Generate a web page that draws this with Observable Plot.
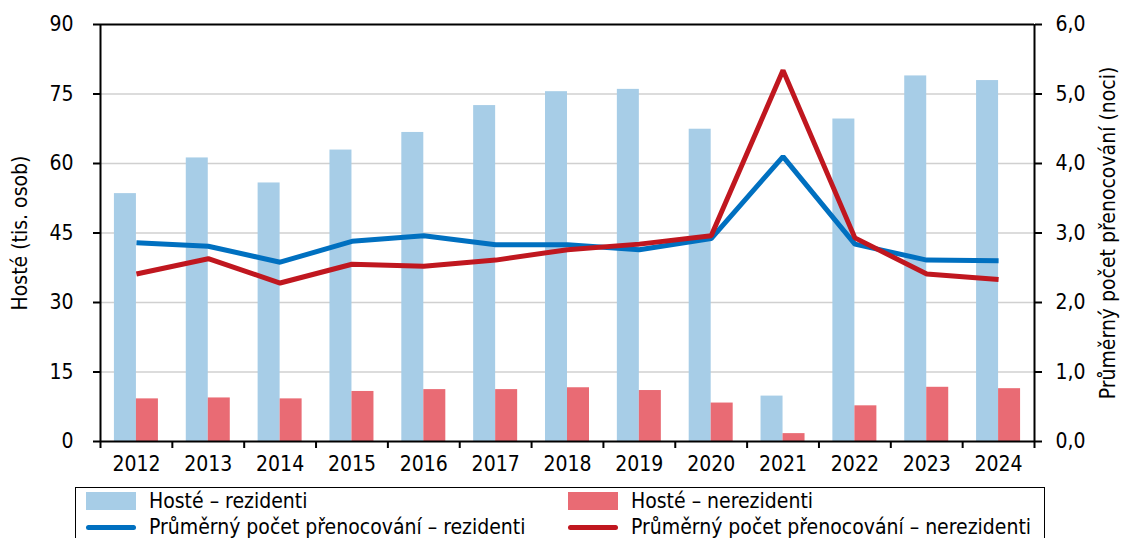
<!DOCTYPE html>
<html><head><meta charset="utf-8">
<script src="https://cdn.jsdelivr.net/npm/d3@7"></script>
<script src="https://cdn.jsdelivr.net/npm/@observablehq/plot@0.6"></script>
<style>
body{margin:0;background:#fff;font-family:"DejaVu Sans Condensed","DejaVu Sans",sans-serif;}
#wrap{position:relative;width:1121px;height:538px;overflow:hidden;}
#chart{position:absolute;left:0;top:0;}
#legend{position:absolute;left:75px;top:487px;width:970px;height:70px;border:1.5px solid #000;box-sizing:border-box;font-size:21px;color:#000;background:#fff;}
.item{position:absolute;display:flex;align-items:center;height:26px;white-space:nowrap;}
.sw{display:inline-block;width:50px;margin-right:13px;}
</style></head>
<body><div id="wrap"><div id="chart"></div><div id="legend"></div></div>
<script>
const years = [2012,2013,2014,2015,2016,2017,2018,2019,2020,2021,2022,2023,2024];
const guestsRes = [53.5,61.2,55.8,62.9,66.7,72.5,75.5,76.0,67.4,9.8,69.6,78.9,77.9];
const guestsNonres = [9.2,9.4,9.2,10.8,11.2,11.2,11.6,11.0,8.3,1.7,7.7,11.7,11.4];
const nightsRes = [2.86,2.81,2.58,2.88,2.96,2.83,2.83,2.76,2.92,4.10,2.84,2.61,2.60];
const nightsNonres = [2.41,2.63,2.28,2.55,2.52,2.61,2.76,2.84,2.96,5.34,2.93,2.41,2.33];
const leftTicks = [0,15,30,45,60,75,90];
const rightTicks = [0,1,2,3,4,5,6];
const labels = {
  gRes:"Hosté – rezidenti", gNon:"Hosté – nerezidenti",
  nRes:"Průměrný počet přenocování – rezidenti", nNon:"Průměrný počet přenocování – nerezidenti",
  yLeft:"Hosté (tis. osob)", yRight:"Průměrný počet přenocování (noci)"
};
const colors = {gRes:"#a7cde7", gNon:"#e96b74", nRes:"#0070c0", nNon:"#c0171f"};

const W = 1121, H = 478, ML = 100, MR = 87, MT = 24, MB = 37;
const ratio = 90/6;
const bw = (W-ML-MR)/years.length;
const barW = 22;
const FONT = "'DejaVu Sans Condensed','DejaVu Sans',sans-serif";

const resData = years.map((y,i)=>({year:y, v:guestsRes[i]}));
const nonData = years.map((y,i)=>({year:y, v:guestsNonres[i]}));
const nResData = years.map((y,i)=>({year:y, v:nightsRes[i]}));
const nNonData = years.map((y,i)=>({year:y, v:nightsNonres[i]}));

const chart = Plot.plot({
  width: W, height: H, marginLeft: ML, marginRight: MR, marginTop: MT, marginBottom: MB,
  style: {fontFamily: FONT, fontSize: "21px", color:"#000", background:"#fff", overflow:"visible"},
  x: {type:"band", domain: years, padding: 0, align: 0.5, round: false},
  y: {type:"linear", domain:[0,90]},
  marks: [
    Plot.ruleY([15,30,45,60,75], {stroke:"#d0d0d0", strokeWidth:1.5}),
    Plot.barY(resData, {x:"year", y:"v", fill:colors.gRes, insetLeft: bw/2-barW, insetRight: bw/2}),
    Plot.barY(nonData, {x:"year", y:"v", fill:colors.gNon, insetLeft: bw/2, insetRight: bw/2-barW}),
    Plot.line(nResData, {x:"year", y:d=>d.v*ratio, stroke:colors.nRes, strokeWidth:5, strokeLinejoin:"miter", strokeLinecap:"butt"}),
    Plot.line(nNonData, {x:"year", y:d=>d.v*ratio, stroke:colors.nNon, strokeWidth:5, strokeLinejoin:"miter", strokeLinecap:"butt"}),
    Plot.ruleY([90], {stroke:"#000", strokeWidth:2}),
    Plot.ruleY([0], {stroke:"#000", strokeWidth:2}),
    Plot.axisY(leftTicks, {anchor:"left", tickSize:7, tickPadding:20, stroke:"#000", strokeWidth:2, label:null, tickFormat:d=>String(d)}),
    Plot.axisY(rightTicks.map(d=>d*ratio), {anchor:"right", tickSize:7, tickPadding:14, stroke:"#000", strokeWidth:2, label:null, tickFormat:d=>(d/ratio).toFixed(1).replace(".",",")}),
    Plot.ruleX([years[0]], {dx:-bw/2, stroke:"#000", strokeWidth:2}),
    Plot.ruleX([years[years.length-1]], {dx:bw/2, stroke:"#000", strokeWidth:2, insetBottom:-7}),
    Plot.ruleX(years, {x:d=>d, y1:0, y2:0, dx:-bw/2, insetBottom:-7, stroke:"#000", strokeWidth:2}),
    Plot.axisX(years, {anchor:"bottom", tickSize:0, tickPadding:15, label:null, tickFormat:d=>String(d)}),
    Plot.text([labels.yLeft], {frameAnchor:"left", dx:-80, rotate:-90, textAnchor:"middle", fontSize:21}),
    Plot.text([labels.yRight], {frameAnchor:"right", dx:74, rotate:-90, textAnchor:"middle", fontSize:21})
  ]
});
document.getElementById("chart").appendChild(chart);

const leg = document.getElementById("legend");
const items = [
  {t:labels.gRes, c:colors.gRes, kind:"bar", x:10, y:0},
  {t:labels.gNon, c:colors.gNon, kind:"bar", x:492, y:0},
  {t:labels.nRes, c:colors.nRes, kind:"line", x:10, y:26},
  {t:labels.nNon, c:colors.nNon, kind:"line", x:492, y:26}
];
for (const it of items){
  const d = document.createElement("div");
  d.className="item"; d.style.left=it.x+"px"; d.style.top=it.y+"px";
  const s = document.createElement("span"); s.className="sw";
  s.style.background=it.c; s.style.height = it.kind==="bar" ? "18px" : "5px";
  if(it.kind==="line") s.style.borderRadius="3px";
  d.appendChild(s);
  const t = document.createElement("span"); t.textContent=it.t; d.appendChild(t);
  leg.appendChild(d);
}
</script></body></html>
